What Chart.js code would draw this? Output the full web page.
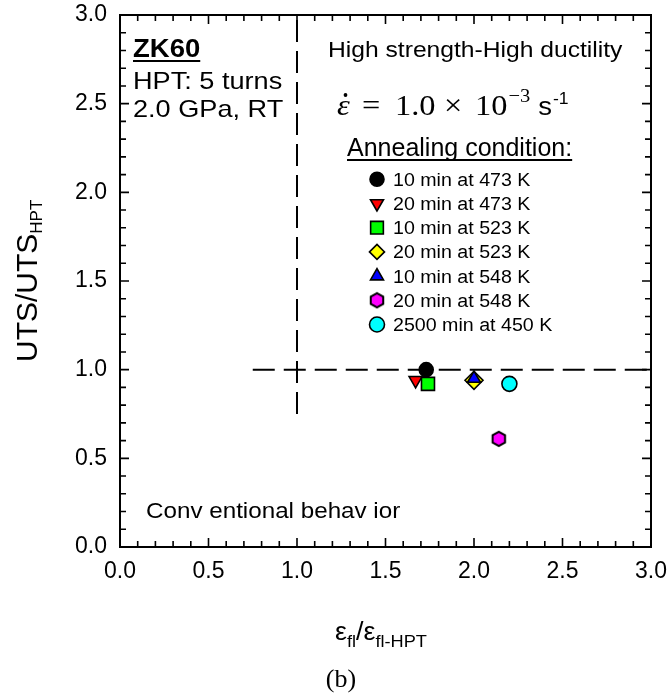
<!DOCTYPE html>
<html><head><meta charset="utf-8">
<script src="https://cdn.jsdelivr.net/npm/chart.js@4.4.0/dist/chart.umd.min.js"></script>
<style>html,body{margin:0;padding:0;background:#fff}#wrap{width:667px;height:700px}</style>
</head><body><div id="wrap"><canvas id="c" width="667" height="700"></canvas></div>
<script>
// ---- data ----
const seriesLabels = ['10 min at 473 K','20 min at 473 K','10 min at 523 K','20 min at 523 K','10 min at 548 K','20 min at 548 K','2500 min at 450 K'];
const xValues = [1.73, 1.67, 1.74, 2.00, 2.00, 2.14, 2.20];
const yValues = [1.00, 0.94, 0.92, 0.94, 0.95, 0.61, 0.92];
const tickLabels = ['0.0','0.5','1.0','1.5','2.0','2.5','3.0'];
const axisMin = 0, axisMax = 3;
const refX = 1.0, refY = 1.0, refStart = 0.75;

// ---- styles ----
const fills = ['#000000','#ff0000','#00ff00','#ffff00','#0000ff','#ff00ff','#00ffff'];
function hexImg(){
  const c=document.createElement('canvas'); c.width=18; c.height=18;
  const g=c.getContext('2d'); g.beginPath();
  for(let k=0;k<6;k++){const a=Math.PI/6+k*Math.PI/3; const px=9+7.2*Math.cos(a), py=9+7.2*Math.sin(a); k?g.lineTo(px,py):g.moveTo(px,py);}
  g.closePath(); g.fillStyle='#ff00ff'; g.fill(); g.lineWidth=2; g.strokeStyle='#000'; g.stroke(); return c;
}
const hex = hexImg();
const styles = ['circle','triangle','rect','rectRot','triangle',hex,'circle'];
const rotations = [0,180,0,0,0,0,0];
const radii = [7,7.5,9.2,9,7.5,8,7.5];
const orders = [6,5,4,3,2,1,0];
const SANS = '"Liberation Sans", Arial, sans-serif';
const SERIF = '"Liberation Serif", "Times New Roman", serif';

const datasets = seriesLabels.map((lab,i)=>({
  label: lab,
  data: [{x:xValues[i], y:yValues[i]}],
  pointStyle: styles[i], rotation: rotations[i], pointRadius: radii[i], pointHoverRadius: radii[i],
  backgroundColor: fills[i], borderColor:'#000', borderWidth: 1.6, order: orders[i]
}));

function txt(ctx,s,x,y,font,sx,align){
  ctx.save(); ctx.font=font; ctx.textAlign=align||'left'; ctx.textBaseline='alphabetic';
  ctx.translate(x,y); ctx.scale(sx||1,1); ctx.fillText(s,0,0);
  const w=ctx.measureText(s).width*(sx||1); ctx.restore(); return w;
}

const deco = {
  id:'deco',
  beforeDatasetsDraw(chart){
    const {ctx, chartArea:a, scales:{x,y}} = chart;
    ctx.save(); ctx.strokeStyle='#000'; ctx.lineWidth=2; ctx.setLineDash([22,9]);
    ctx.beginPath(); ctx.moveTo(x.getPixelForValue(refX), y.getPixelForValue(refStart)); ctx.lineTo(x.getPixelForValue(refX), a.top); ctx.stroke();
    ctx.beginPath(); ctx.moveTo(x.getPixelForValue(refStart), y.getPixelForValue(refY)); ctx.lineTo(a.right, y.getPixelForValue(refY)); ctx.stroke();
    ctx.restore();
  },
  afterDatasetsDraw(chart){
    const {ctx, chartArea:a, scales:{x,y}} = chart;
    ctx.save();
    ctx.strokeStyle='#000'; ctx.lineWidth=2; ctx.setLineDash([]);
    ctx.strokeRect(a.left, a.top, a.right-a.left, a.bottom-a.top);
    ctx.lineWidth=1.6;
    for(let k=1;k<30;k++){
      const v=k/10, len=(k%5===0)?9:6;
      const px=x.getPixelForValue(v), py=y.getPixelForValue(v);
      ctx.beginPath();
      ctx.moveTo(px,a.bottom); ctx.lineTo(px,a.bottom-len);
      ctx.moveTo(px,a.top); ctx.lineTo(px,a.top+len);
      ctx.moveTo(a.left,py); ctx.lineTo(a.left+len,py);
      ctx.moveTo(a.right,py); ctx.lineTo(a.right-len,py);
      ctx.stroke();
    }
    ctx.fillStyle='#000';
    // top-left block
    let w = txt(ctx,'ZK60',133,57,'bold 25px '+SANS,1.1);
    ctx.fillRect(133,60,w,2);
    txt(ctx,'HPT: 5 turns',133,89,'24px '+SANS,1.13);
    txt(ctx,'2.0 GPa, RT',133,117,'24px '+SANS,1.13);
    // top-right
    txt(ctx,'High strength-High ductility',328,57,'22px '+SANS,1.12);
    // formula (math spacing)
    const fb=115;
    txt(ctx,'\u03B5',337,fb,'italic 30px '+SERIF,1.08);
    ctx.beginPath(); ctx.arc(345.5,fb-20,1.9,0,Math.PI*2); ctx.fill();
    txt(ctx,'=',362,fb,'30px '+SERIF,1.08);
    txt(ctx,'1.0',395,fb,'30px '+SERIF,1.08);
    txt(ctx,'\u00D7',444,fb,'30px '+SERIF,1.08);
    let fx = 475 + txt(ctx,'10',475,fb,'30px '+SERIF,1.08);
    fx += txt(ctx,'\u22123',fx+1,fb-13,'19px '+SERIF,1.08);
    fx += 9;
    fx += txt(ctx,'s',fx,fb,'25px '+SANS,1.1);
    txt(ctx,'-1',fx+1,fb-11,'16px '+SANS,1.1);
    // legend title
    w = txt(ctx,'Annealing condition:',347,156,'25px '+SANS,1.0);
    ctx.fillRect(347,159,w,2);
    // legend rows
    for(let i=0;i<seriesLabels.length;i++){
      const ly=179.3+i*24.2;
      ctx.fillStyle=fills[i]; ctx.strokeStyle='#000'; ctx.lineWidth=1.6;
      Chart.helpers.drawPoint(ctx,{pointStyle:styles[i],rotation:rotations[i],radius:Math.min(radii[i],7.5)*(styles[i]==='rect'?1.2:1),borderWidth:1.6},377,ly);
      ctx.fillStyle='#000';
      txt(ctx,seriesLabels[i],393,ly+6.5,'18px '+SANS,1.09);
    }
    // bottom-left
    txt(ctx,'Conv entional behav ior',146,518,'22px '+SANS,1.1);
    // y title
    ctx.save(); ctx.translate(37,362); ctx.rotate(-Math.PI/2);
    ctx.font='30px '+SANS; ctx.textBaseline='alphabetic'; ctx.textAlign='left';
    ctx.fillText('UTS/UTS',0,0); const uw=ctx.measureText('UTS/UTS').width;
    ctx.font='17px '+SANS; ctx.fillText('HPT',uw,5); ctx.restore();
    // x title
    let tx=335, tb=640;
    tx+=txt(ctx,'\u03B5',tx,tb,'25px '+SANS,1.07);
    tx+=txt(ctx,'fl',tx,tb+7,'17px '+SANS,1.07);
    tx+=txt(ctx,'/',tx,tb,'25px '+SANS,1.07);
    tx+=txt(ctx,'\u03B5',tx,tb,'25px '+SANS,1.07);
    tx+=txt(ctx,'fl-HPT',tx,tb+7,'17px '+SANS,1.07);
    // caption
    txt(ctx,'(b)',341,687,'26px '+SERIF,1,'center');
    ctx.restore();
  }
};

new Chart(document.getElementById('c'),{
  type:'scatter',
  data:{datasets},
  options:{
    responsive:false, animation:false, devicePixelRatio:1,
    layout:{padding:{top:15,right:16,left:0,bottom:0}},
    plugins:{legend:{display:false},tooltip:{enabled:false}},
    scales:{
      x:{type:'linear',min:axisMin,max:axisMax,
         afterFit(s){s.height=153; s.paddingLeft=0; s.paddingRight=0;},
         afterBuildTicks(s){s.ticks=tickLabels.map(t=>({value:parseFloat(t)}));},
         grid:{display:false,drawTicks:false}, border:{display:false},
         ticks:{padding:11,color:'#000',font:{family:'"Liberation Sans", Arial, sans-serif',size:23},maxRotation:0,
           callback:(v,i)=>tickLabels[i]}},
      y:{type:'linear',min:axisMin,max:axisMax,
         afterFit(s){s.width=120; s.paddingTop=0; s.paddingBottom=0;},
         afterBuildTicks(s){s.ticks=tickLabels.map(t=>({value:parseFloat(t)}));},
         grid:{display:false,drawTicks:false}, border:{display:false},
         ticks:{padding:13,color:'#000',font:{family:'"Liberation Sans", Arial, sans-serif',size:23},
           callback:(v,i)=>tickLabels[i]}}
    }
  },
  plugins:[deco]
});
</script></body></html>
